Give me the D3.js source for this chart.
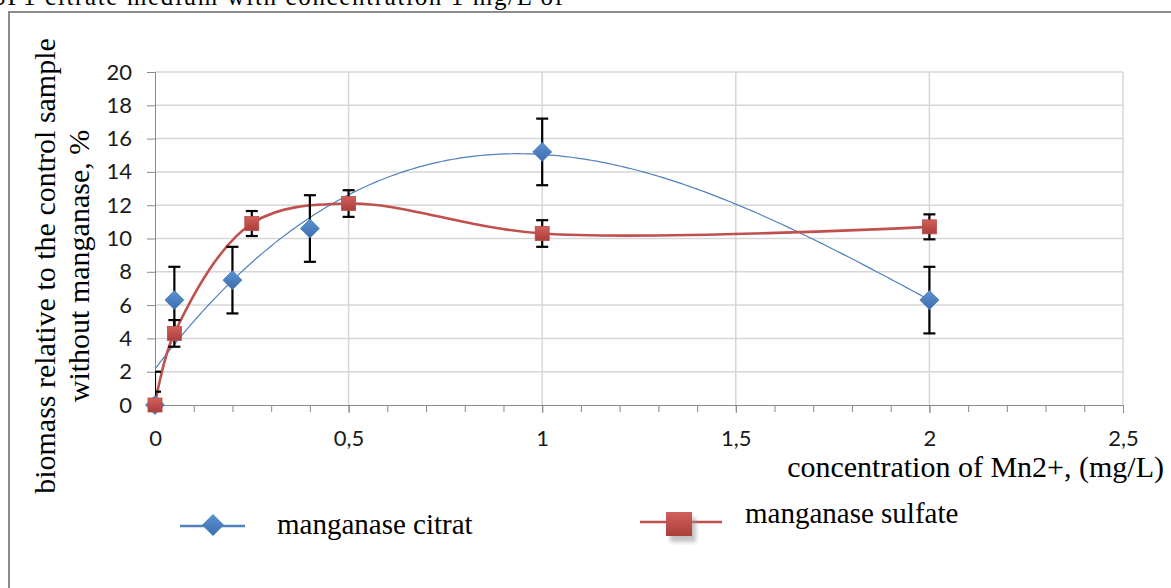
<!DOCTYPE html>
<html>
<head>
<meta charset="utf-8">
<script src="https://cdn.jsdelivr.net/npm/d3@7"></script>
<style>
  body { margin: 0; background: #fff; }
  svg { display: block; }
</style>
</head>
<body>
<svg></svg>
<script>
// values
const concCitrate = [0, 0.05, 0.2, 0.4, 1, 2];
const biomassCitrate = [0, 6.3, 7.5, 10.6, 15.2, 6.3];
const errCitrate = [2, 2, 2, 2, 2, 2];

const concSulfate = [0, 0.05, 0.25, 0.5, 1, 2];
const biomassSulfate = [0, 4.3, 10.9, 12.1, 10.3, 10.7];
const errSulfate = [0.8, 0.8, 0.75, 0.8, 0.8, 0.75];

const xTicks = [0, 0.5, 1, 1.5, 2, 2.5];
const xTickLabels = ["0", "0,5", "1", "1,5", "2", "2,5"];
const xMinorTicks = d3.range(0, 26).map(i => i / 10);
const yTicks = [0, 2, 4, 6, 8, 10, 12, 14, 16, 18, 20];

const seriesNames = ["manganase citrat", "manganase sulfate"];
const xTitle = "concentration of Mn2+, (mg/L)";
const yTitle = ["biomass relative to the control sample", "without manganase, %"];
const headerText = "SP1 citrate medium with concentration 1 mg/L of";

const width = 1171, height = 588;
const margin = { left: 155, right: 48, top: 72, bottom: 183 };
const blue = "#4F81BD", red = "#C0504D";
const serif = "'Liberation Serif', 'Times New Roman', serif";
const sans = "Lato, 'Open Sans', sans-serif";

const svg = d3.select("svg").attr("width", width).attr("height", height);

const x = d3.scaleLinear().domain([0, 2.5]).range([margin.left, width - margin.right]);
const y = d3.scaleLinear().domain([0, 20]).range([height - margin.bottom, margin.top]);

const defs = svg.append("defs");
defs.append("clipPath").attr("id", "plot")
  .append("rect")
  .attr("x", x(0)).attr("y", y(20))
  .attr("width", x(2.5) - x(0)).attr("height", y(0) - y(20));

const gBlue = defs.append("linearGradient").attr("id", "gBlue")
  .attr("x1", 0).attr("y1", 0).attr("x2", 0).attr("y2", 1);
gBlue.append("stop").attr("offset", 0).attr("stop-color", "#5d91d2");
gBlue.append("stop").attr("offset", 1).attr("stop-color", "#3c6eaf");
const gRed = defs.append("linearGradient").attr("id", "gRed")
  .attr("x1", 0).attr("y1", 0).attr("x2", 0).attr("y2", 1);
gRed.append("stop").attr("offset", 0).attr("stop-color", "#d2605c");
gRed.append("stop").attr("offset", 1).attr("stop-color", "#aa3f3c");
defs.append("filter").attr("id", "shadow")
  .append("feGaussianBlur").attr("stdDeviation", 2);

// header line, cut by the top of the picture (as in the source page)
svg.append("text")
  .attr("x", -8).attr("y", 5)
  .attr("textLength", 571).attr("lengthAdjust", "spacing")
  .style("font-family", serif).style("font-size", "25px")
  .text(headerText);

// chart frame
svg.append("path")
  .attr("d", `M9,${height + 5}V12H${width + 5}`)
  .attr("fill", "none").attr("stroke", "#8c8c8c").attr("stroke-width", 2);

// gridlines
svg.append("g").selectAll("line").data(yTicks.slice(1)).join("line")
  .attr("x1", x(0)).attr("x2", x(2.5))
  .attr("y1", d => y(d)).attr("y2", d => y(d))
  .attr("stroke", "#d6d6d6").attr("stroke-width", 1.5);
svg.append("g").selectAll("line").data(xTicks.slice(1)).join("line")
  .attr("x1", d => x(d)).attr("x2", d => x(d))
  .attr("y1", y(0)).attr("y2", y(20))
  .attr("stroke", "#d6d6d6").attr("stroke-width", 1.5);

// axes
const yAxis = d3.axisLeft(y).tickValues(yTicks).tickSize(8).tickPadding(15);
const gy = svg.append("g").attr("transform", `translate(${x(0)},0)`).call(yAxis);
gy.selectAll("path,line").attr("stroke", "#8a8a8a");
gy.selectAll("text").style("font-family", sans).style("font-size", "22px").attr("fill", "#1a1a1a");

const xMinor = d3.axisBottom(x).tickValues(xMinorTicks).tickSize(7).tickFormat("");
const gxm = svg.append("g").attr("transform", `translate(0,${y(0)})`).call(xMinor);
gxm.selectAll("path,line").attr("stroke", "#8a8a8a");

const xAxis = d3.axisBottom(x).tickValues(xTicks).tickSize(8).tickPadding(17)
  .tickFormat((d, i) => xTickLabels[i]);
const gx = svg.append("g").attr("transform", `translate(0,${y(0)})`).call(xAxis);
gx.selectAll("path,line").attr("stroke", "#8a8a8a");
gx.selectAll("text").style("font-family", sans).style("font-size", "22px").attr("fill", "#1a1a1a");

// axis titles
svg.append("text")
  .attr("text-anchor", "end")
  .attr("x", 1164).attr("y", 477)
  .style("font-family", serif).style("font-size", "30px")
  .text(xTitle);

const yt = svg.append("text")
  .attr("text-anchor", "middle")
  .attr("transform", "translate(55,266) rotate(-90)")
  .style("font-family", serif).style("font-size", "30px");
yt.selectAll("tspan").data(yTitle).join("tspan")
  .attr("x", 0).attr("dy", (d, i) => i ? 34 : 0)
  .text(d => d);

// cubic least-squares trendline for the citrate series
function polyFit(xs, ys, order) {
  const n = order + 1;
  const A = d3.range(n).map(() => new Array(n + 1).fill(0));
  xs.forEach((xv, k) => {
    for (let i = 0; i < n; i++) {
      for (let j = 0; j < n; j++) A[i][j] += Math.pow(xv, i + j);
      A[i][n] += ys[k] * Math.pow(xv, i);
    }
  });
  for (let c = 0; c < n; c++) {
    let p = c;
    for (let r = c + 1; r < n; r++) if (Math.abs(A[r][c]) > Math.abs(A[p][c])) p = r;
    [A[c], A[p]] = [A[p], A[c]];
    for (let r = 0; r < n; r++) {
      if (r === c) continue;
      const f = A[r][c] / A[c][c];
      for (let k = c; k <= n; k++) A[r][k] -= f * A[c][k];
    }
  }
  return d3.range(n).map(i => A[i][n] / A[i][i]);
}
const coef = polyFit(concCitrate, biomassCitrate, 3);
const trend = v => coef.reduce((s, c, i) => s + c * Math.pow(v, i), 0);
const trendX = d3.range(0, 2.0001, 0.01);

const plot = svg.append("g").attr("clip-path", "url(#plot)");

plot.append("path")
  .attr("fill", "none").attr("stroke", blue).attr("stroke-width", 1.2)
  .attr("d", d3.line().x(d => x(d)).y(d => y(trend(d)))(trendX));

const sulfate = concSulfate.map((c, i) => ({ c, v: biomassSulfate[i], e: errSulfate[i] }));
const citrate = concCitrate.map((c, i) => ({ c, v: biomassCitrate[i], e: errCitrate[i] }));

plot.append("path")
  .attr("fill", "none").attr("stroke", red).attr("stroke-width", 2.6)
  .attr("d", d3.line().curve(d3.curveCatmullRom.alpha(0.5))
    .x(d => x(d.c)).y(d => y(d.v))(sulfate));

// error bars
function errorBars(data) {
  const g = plot.append("g").attr("stroke", "#000").attr("stroke-width", 2.2);
  g.selectAll(".v").data(data).join("line")
    .attr("x1", d => x(d.c)).attr("x2", d => x(d.c))
    .attr("y1", d => y(d.v - d.e)).attr("y2", d => y(d.v + d.e));
  g.selectAll(".t").data(data.flatMap(d => [d.v - d.e, d.v + d.e].map(v => ({ c: d.c, v }))))
    .join("line")
    .attr("x1", d => x(d.c) - 6).attr("x2", d => x(d.c) + 6)
    .attr("y1", d => y(d.v)).attr("y2", d => y(d.v));
}
errorBars(citrate);
errorBars(sulfate);

// markers
const diamond = r => `M0,${-r}L${r},0L0,${r}L${-r},0Z`;
svg.append("g").selectAll("path").data(citrate).join("path")
  .attr("transform", d => `translate(${x(d.c)},${y(d.v)})`)
  .attr("d", diamond(9.5))
  .attr("fill", "url(#gBlue)").attr("stroke", "#4a7cba").attr("stroke-width", 0.8);

svg.append("g").selectAll("rect").data(sulfate).join("rect")
  .attr("x", d => x(d.c) - 7).attr("y", d => y(d.v) - 7)
  .attr("width", 14).attr("height", 14)
  .attr("fill", "url(#gRed)").attr("stroke", "#b94a47").attr("stroke-width", 0.8);

// legend
const lg = svg.append("g");
lg.append("line").attr("x1", 180).attr("x2", 245).attr("y1", 526).attr("y2", 526)
  .attr("stroke", blue).attr("stroke-width", 2.5);
lg.append("path").attr("transform", "translate(213,525)").attr("d", diamond(11))
  .attr("fill", "url(#gBlue)");
lg.append("text").attr("x", 277).attr("y", 534)
  .style("font-family", serif).style("font-size", "29px").text(seriesNames[0]);

lg.append("line").attr("x1", 640).attr("x2", 722).attr("y1", 522).attr("y2", 522)
  .attr("stroke", red).attr("stroke-width", 2.5);
lg.append("rect").attr("x", 670).attr("y", 518).attr("width", 26).attr("height", 24)
  .attr("fill", "#999").attr("opacity", 0.6).attr("filter", "url(#shadow)");
lg.append("rect").attr("x", 666).attr("y", 512).attr("width", 26).attr("height", 24)
  .attr("fill", "url(#gRed)");
lg.append("text").attr("x", 745).attr("y", 523)
  .style("font-family", serif).style("font-size", "29px").text(seriesNames[1]);
</script>
</body>
</html>
